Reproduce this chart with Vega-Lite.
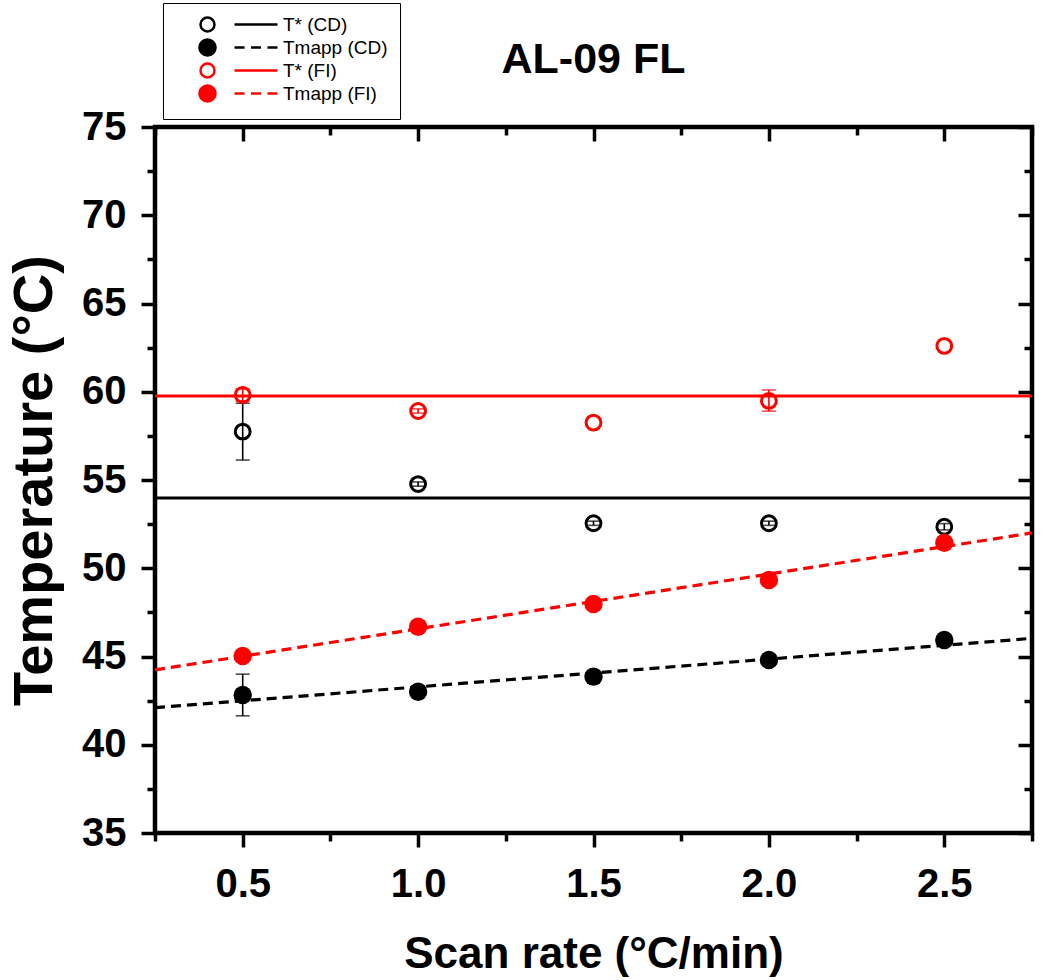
{
  "$schema": "https://vega.github.io/schema/vega-lite/v6.json",
  "autosize": "none",
  "padding": {"left": 155, "top": 127, "right": 18, "bottom": 147},
  "width": 877,
  "height": 706,
  "background": "white",
  "title": {"text": "AL-09 FL", "font": "Liberation Sans", "fontSize": 43, "fontWeight": "bold", "color": "black", "anchor": "middle", "baseline": "alphabetic", "offset": -70, "dy": 43},
  "datasets": {
    "pts": [
      {"series": "T* (CD)", "kind": "open", "rate": 0.5, "temp": 57.74, "lo": 56.13, "hi": 59.35},
      {"series": "T* (CD)", "kind": "open", "rate": 1.0, "temp": 54.77, "lo": 54.65, "hi": 54.89},
      {"series": "T* (CD)", "kind": "open", "rate": 1.5, "temp": 52.55, "lo": 52.43, "hi": 52.67},
      {"series": "T* (CD)", "kind": "open", "rate": 2.0, "temp": 52.55, "lo": 52.43, "hi": 52.67},
      {"series": "T* (CD)", "kind": "open", "rate": 2.5, "temp": 52.35, "lo": 52.17, "hi": 52.53},
      {"series": "Tmapp (CD)", "kind": "filled", "rate": 0.5, "temp": 42.82, "lo": 41.64, "hi": 44.0},
      {"series": "Tmapp (CD)", "kind": "filled", "rate": 1.0, "temp": 43.0, "lo": null, "hi": null},
      {"series": "Tmapp (CD)", "kind": "filled", "rate": 1.5, "temp": 43.86, "lo": null, "hi": null},
      {"series": "Tmapp (CD)", "kind": "filled", "rate": 2.0, "temp": 44.8, "lo": null, "hi": null},
      {"series": "Tmapp (CD)", "kind": "filled", "rate": 2.5, "temp": 45.93, "lo": null, "hi": null},
      {"series": "T* (FI)", "kind": "open", "rate": 0.5, "temp": 59.82, "lo": 59.47, "hi": 60.17},
      {"series": "T* (FI)", "kind": "open", "rate": 1.0, "temp": 58.91, "lo": 58.79, "hi": 59.03},
      {"series": "T* (FI)", "kind": "open", "rate": 1.5, "temp": 58.25, "lo": null, "hi": null},
      {"series": "T* (FI)", "kind": "open", "rate": 2.0, "temp": 59.48, "lo": 58.9, "hi": 60.1},
      {"series": "T* (FI)", "kind": "open", "rate": 2.5, "temp": 62.6, "lo": null, "hi": null},
      {"series": "Tmapp (FI)", "kind": "filled", "rate": 0.5, "temp": 45.03, "lo": null, "hi": null},
      {"series": "Tmapp (FI)", "kind": "filled", "rate": 1.0, "temp": 46.69, "lo": null, "hi": null},
      {"series": "Tmapp (FI)", "kind": "filled", "rate": 1.5, "temp": 47.97, "lo": null, "hi": null},
      {"series": "Tmapp (FI)", "kind": "filled", "rate": 2.0, "temp": 49.33, "lo": null, "hi": null},
      {"series": "Tmapp (FI)", "kind": "filled", "rate": 2.5, "temp": 51.45, "lo": null, "hi": null}
    ],
    "fits": [
      {"series": "Tmapp (CD)", "rate": 0.25, "temp": 42.1},
      {"series": "Tmapp (CD)", "rate": 2.75, "temp": 46.03},
      {"series": "Tmapp (FI)", "rate": 0.25, "temp": 44.24},
      {"series": "Tmapp (FI)", "rate": 2.75, "temp": 52.0}
    ],
    "hlines": [
      {"series": "T* (CD)", "temp": 53.98},
      {"series": "T* (FI)", "temp": 59.76}
    ]
  },
  "resolve": {"axis": {"x": "independent", "y": "independent"}},
  "layer": [
    {
      "data": {"name": "fits"},
      "mark": {"type": "line", "strokeWidth": 3.2, "strokeDash": [10, 6]},
      "encoding": {
        "x": {"field": "rate", "type": "quantitative", "scale": {"domain": [0.25, 2.75], "nice": false, "zero": false},
              "axis": {"orient": "bottom", "values": [0.5, 1.0, 1.5, 2.0, 2.5], "format": ".1f", "tickSize": 14, "labelPadding": 17, "title": "Scan rate (°C/min)", "titleFontSize": 44, "titlePadding": 28}},
        "y": {"field": "temp", "type": "quantitative", "scale": {"domain": [35, 75], "nice": false, "zero": false},
              "axis": {"orient": "left", "values": [35, 40, 45, 50, 55, 60, 65, 70, 75], "tickSize": 14, "labelPadding": 15, "title": "Temperature (°C)", "titleFontSize": 56, "titlePadding": 18}},
        "color": {"field": "series", "type": "nominal", "scale": {"range": ["#000000", "#ff0000", "#000000", "#ff0000"]}, "legend": null}
      }
    },
    {
      "data": {"name": "hlines"},
      "mark": {"type": "rule", "strokeWidth": 3},
      "encoding": {
        "y": {"field": "temp", "type": "quantitative", "scale": {"domain": [35, 75], "nice": false, "zero": false}, "axis": null},
        "color": {"field": "series", "type": "nominal", "legend": null}
      }
    },
    {
      "data": {"name": "pts"},
      "transform": [{"filter": "isValid(datum.lo)"}],
      "mark": {"type": "rule", "strokeWidth": 1.6},
      "encoding": {
        "x": {"field": "rate", "type": "quantitative", "scale": {"domain": [0.25, 2.75], "nice": false, "zero": false},
              "axis": {"orient": "bottom", "values": [0.25, 0.75, 1.25, 1.75, 2.25, 2.75], "tickSize": 8, "labels": false, "title": null}},
        "y": {"field": "lo", "type": "quantitative", "scale": {"domain": [35, 75], "nice": false, "zero": false},
              "axis": {"orient": "left", "values": [37.5, 42.5, 47.5, 52.5, 57.5, 62.5, 67.5, 72.5], "tickSize": 8, "labels": false, "title": null}},
        "y2": {"field": "hi"},
        "color": {"field": "series", "type": "nominal", "legend": null}
      }
    },
    {
      "data": {"name": "pts"},
      "transform": [{"filter": "isValid(datum.lo)"}],
      "mark": {"type": "tick", "orient": "horizontal", "size": 14, "thickness": 1.6},
      "encoding": {
        "x": {"field": "rate", "type": "quantitative", "scale": {"domain": [0.25, 2.75], "nice": false, "zero": false},
              "axis": {"orient": "top", "values": [0.5, 1.0, 1.5, 2.0, 2.5], "tickSize": -14, "labels": false, "title": null}},
        "y": {"field": "lo", "type": "quantitative", "scale": {"domain": [35, 75], "nice": false, "zero": false},
              "axis": {"orient": "right", "values": [35, 40, 45, 50, 55, 60, 65, 70, 75], "tickSize": -14, "labels": false, "title": null}},
        "color": {"field": "series", "type": "nominal", "legend": null}
      }
    },
    {
      "data": {"name": "pts"},
      "transform": [{"filter": "isValid(datum.hi)"}],
      "mark": {"type": "tick", "orient": "horizontal", "size": 14, "thickness": 1.6},
      "encoding": {
        "x": {"field": "rate", "type": "quantitative", "scale": {"domain": [0.25, 2.75], "nice": false, "zero": false}, "axis": null},
        "y": {"field": "hi", "type": "quantitative", "scale": {"domain": [35, 75], "nice": false, "zero": false}, "axis": null},
        "color": {"field": "series", "type": "nominal", "legend": null}
      }
    },
    {
      "data": {"name": "pts"},
      "transform": [{"filter": "datum.kind === 'open'"}],
      "mark": {"type": "point", "shape": "circle", "filled": false, "size": 220, "strokeWidth": 3, "opacity": 1},
      "encoding": {
        "x": {"field": "rate", "type": "quantitative", "scale": {"domain": [0.25, 2.75], "nice": false, "zero": false},
              "axis": {"orient": "top", "values": [0.25, 0.75, 1.25, 1.75, 2.25, 2.75], "tickSize": -8, "labels": false, "title": null}},
        "y": {"field": "temp", "type": "quantitative", "scale": {"domain": [35, 75], "nice": false, "zero": false},
              "axis": {"orient": "right", "values": [37.5, 42.5, 47.5, 52.5, 57.5, 62.5, 67.5, 72.5], "tickSize": -8, "labels": false, "title": null}},
        "color": {"field": "series", "type": "nominal", "legend": null}
      }
    },
    {
      "data": {"name": "pts"},
      "transform": [{"filter": "datum.kind === 'filled'"}],
      "mark": {"type": "point", "shape": "circle", "filled": true, "size": 340, "opacity": 1},
      "encoding": {
        "x": {"field": "rate", "type": "quantitative", "scale": {"domain": [0.25, 2.75], "nice": false, "zero": false}, "axis": null},
        "y": {"field": "temp", "type": "quantitative", "scale": {"domain": [35, 75], "nice": false, "zero": false}, "axis": null},
        "color": {"field": "series", "type": "nominal", "legend": null}
      }
    },
    {
      "data": {"name": "pts"},
      "transform": [{"filter": "datum.kind === 'legendonly'"}],
      "mark": {"type": "point", "size": 196, "strokeWidth": 2.5, "opacity": 1},
      "encoding": {
        "x": {"field": "rate", "type": "quantitative", "scale": {"domain": [0.25, 2.75], "nice": false, "zero": false}, "axis": null},
        "y": {"field": "temp", "type": "quantitative", "scale": {"domain": [35, 75], "nice": false, "zero": false}, "axis": null},
        "stroke": {"field": "series", "type": "nominal",
          "scale": {"domain": ["T* (CD)", "Tmapp (CD)", "T* (FI)", "Tmapp (FI)"], "range": ["#000000", "#000000", "#ff0000", "#ff0000"]},
          "legend": {"orient": "none", "legendX": 8, "legendY": -124, "title": null}},
        "fill": {"field": "series", "type": "nominal",
          "scale": {"domain": ["T* (CD)", "Tmapp (CD)", "T* (FI)", "Tmapp (FI)"], "range": ["transparent", "#000000", "transparent", "#ff0000"]},
          "legend": {"orient": "none", "legendX": 8, "legendY": -124, "title": null}},
        "shape": {"field": "series", "type": "nominal",
          "scale": {"domain": ["T* (CD)", "Tmapp (CD)", "T* (FI)", "Tmapp (FI)"],
                    "range": [
                      "M-1,0A1,1,0,1,1,1,0A1,1,0,1,1,-1,0Z M3.86,0L10,0",
                      "M-1.15,0A1.15,1.15,0,1,1,1.15,0A1.15,1.15,0,1,1,-1.15,0Z M3.86,0L5.29,0 M6.21,0L7.64,0 M8.57,0L10,0",
                      "M-1,0A1,1,0,1,1,1,0A1,1,0,1,1,-1,0Z M3.86,0L10,0",
                      "M-1.15,0A1.15,1.15,0,1,1,1.15,0A1.15,1.15,0,1,1,-1.15,0Z M3.86,0L5.29,0 M6.21,0L7.64,0 M8.57,0L10,0"
                    ]},
          "legend": {"orient": "none", "legendX": 8, "legendY": -124, "title": null,
                     "encode": {"legend": {"strokeWidth": {"value": 1.8}}}}}
      }
    }
  ],
  "config": {
    "view": {"stroke": "black", "strokeWidth": 4.5},
    "axis": {"grid": false, "domain": false, "labelFont": "Liberation Sans", "labelFontWeight": "bold", "labelFontSize": 40, "labelColor": "black", "tickColor": "black", "tickWidth": 3.5, "titleFont": "Liberation Sans", "titleFontWeight": "bold", "titleColor": "black"},
    "legend": {
      "strokeColor": "black", "padding": 12, "symbolOffset": 23, "labelOffset": 66, "rowPadding": -3,
      "labelFont": "Liberation Sans", "labelFontSize": 19, "labelColor": "black",
      "symbolSize": 196, "symbolStrokeWidth": 2.5, "symbolOpacity": 1
    }
  }
}
